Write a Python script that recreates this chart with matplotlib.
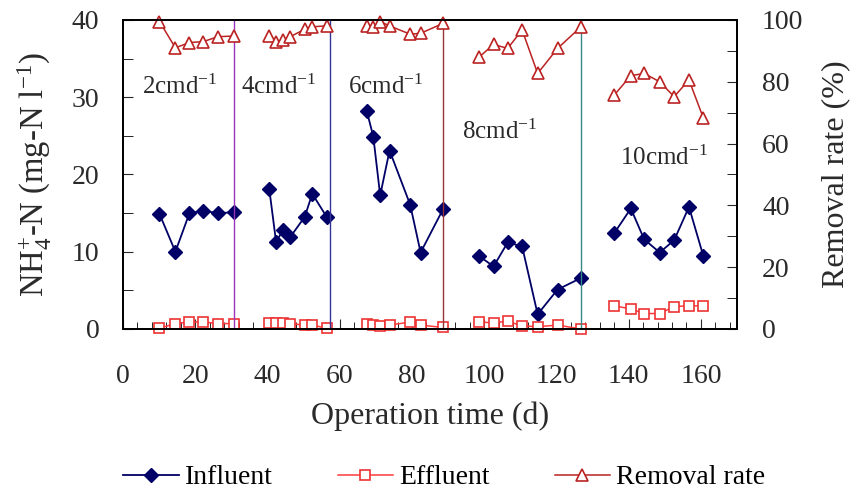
import numpy as np
import matplotlib
matplotlib.use('Agg')
import matplotlib.pyplot as plt
from matplotlib.ticker import MultipleLocator

plt.rcParams['font.family'] = ['Liberation Serif', 'DejaVu Serif']
plt.rcParams['mathtext.fontset'] = 'custom'
plt.rcParams['mathtext.rm'] = 'Liberation Serif'
plt.rcParams['mathtext.it'] = 'Liberation Serif:italic'

# operation days (one list per flow-rate phase)
days = [
    [10.1, 14.5, 18.4, 22.2, 26.3, 30.6],
    [40.5, 42.4, 44.2, 46.3, 50.3, 52.4, 56.4],
    [67.5, 69.3, 71.2, 73.8, 79.5, 82.4, 88.6],
    [98.7, 102.6, 106.5, 110.5, 114.8, 120.3, 126.8],
    [136.0, 140.6, 144.3, 148.6, 152.6, 156.7, 160.7],
]
influent = [
    [14.9, 10.0, 15.0, 15.3, 15.0, 15.1],
    [18.1, 11.2, 12.8, 11.9, 14.5, 17.5, 14.5],
    [28.2, 24.9, 17.3, 23.1, 16.1, 9.9, 15.5],
    [9.4, 8.1, 11.2, 10.7, 1.9, 5.1, 6.6],
    [12.4, 15.6, 11.6, 9.9, 11.5, 15.8, 9.4],
]
effluent = [
    [0.1, 0.7, 0.9, 0.9, 0.7, 0.7],
    [0.8, 0.8, 0.8, 0.7, 0.5, 0.5, 0.1],
    [0.7, 0.5, 0.4, 0.5, 0.9, 0.5, 0.2],
    [0.9, 0.8, 1.0, 0.4, 0.3, 0.5, 0.0],
    [3.0, 2.6, 2.0, 2.0, 2.9, 3.0, 3.0],
]
removal = [
    [99.5, 91.0, 92.7, 93.0, 94.6, 94.8],
    [94.8, 93.0, 93.5, 94.6, 97.0, 97.8, 98.1],
    [98.1, 97.8, 99.5, 98.1, 95.4, 95.7, 98.9],
    [88.1, 92.1, 90.8, 96.8, 82.7, 90.8, 97.8],
    [75.7, 82.0, 82.7, 80.0, 75.2, 80.6, 68.2],
]
phase_ends = [30.6, 57.3, 88.6, 126.8]
phase_colors = ['#9933bb', '#333399', '#993333', '#338888']
phase_labels = ['2cmd$^{\\mathregular{-1}}$', '4cmd$^{\\mathregular{-1}}$', '6cmd$^{\\mathregular{-1}}$',
                '8cmd$^{\\mathregular{-1}}$', '10cmd$^{\\mathregular{-1}}$']
label_pos = [(5.2, 30.4), (32.6, 30.4), (62.4, 30.4), (93.8, 24.6), (137.5, 21.2)]

fig = plt.figure(figsize=(8.59, 4.95), dpi=100)
ax = fig.add_axes([0.1432, 0.3354, 0.7148, 0.6242])
ax2 = ax.twinx()

for i in range(len(days)):
    ax.plot(days[i], influent[i], color='#000066', marker='D', ms=7, lw=1.3,
            mfc='#000066', mec='#000066', clip_on=False,
            label='Influent' if i == 0 else None)
    ax.plot(days[i], effluent[i], color='#ff3b3b', marker='s', ms=6.5, lw=1.1,
            mfc='white', mec='#ee3333', mew=1.2, clip_on=False,
            label='Effluent' if i == 0 else None)
    ax2.plot(days[i], removal[i], color='#bb2222', marker='^', ms=9, lw=1.1,
             mfc='white', mec='#bb2222', mew=1.2, clip_on=False,
             label='Removal rate' if i == 0 else None)

for xv, c in zip(phase_ends, phase_colors):
    ax.axvline(xv, color=c, lw=1.0)

for (x, y), t in zip(label_pos, phase_labels):
    ax.text(x, y, t, fontsize=18, color='#2a2a2a', va='baseline')

ax.set_xlim(0, 170)
ax.set_ylim(0, 40)
ax2.set_ylim(0, 100)
ax.xaxis.set_major_locator(MultipleLocator(20))
ax.xaxis.set_minor_locator(MultipleLocator(4))
ax.yaxis.set_major_locator(MultipleLocator(10))
ax.yaxis.set_minor_locator(MultipleLocator(5))
ax2.yaxis.set_major_locator(MultipleLocator(20))
ax2.yaxis.set_minor_locator(MultipleLocator(10))

ax.tick_params(axis='x', which='major', direction='in', length=7, labelsize=20,
               colors='#2a2a2a', pad=25)
ax.tick_params(axis='x', which='minor', direction='in', length=5)
ax.tick_params(axis='y', which='major', direction='in', length=7, labelsize=20,
               colors='#2a2a2a', pad=17, right=False)
ax.tick_params(axis='y', which='minor', direction='in', length=7, right=False)
ax2.tick_params(axis='y', which='major', direction='in', length=7, labelsize=20,
                colors='#2a2a2a', pad=18)
ax2.tick_params(axis='y', which='minor', direction='in', length=7)

for a in (ax, ax2):
    for s in a.spines.values():
        s.set_linewidth(1.3)

ax.set_xlabel('Operation time (d)', fontsize=23, color='#2a2a2a', labelpad=9)
ax.set_ylabel('NH$_{\\mathregular{4}}^{\\mathregular{+}}$-N (mg-N l$^{\\mathregular{-1}}$)',
              fontsize=23.5, color='#2a2a2a', labelpad=13)
ax2.set_ylabel('Removal rate (%)', fontsize=23, color='#2a2a2a', labelpad=13)

h1, l1 = ax.get_legend_handles_labels()
h2, l2 = ax2.get_legend_handles_labels()
fig.legend(h1 + h2, l1 + l2, loc='center', bbox_to_anchor=(0.517, 0.035), ncol=3,
           frameon=False, fontsize=20, handlelength=2.0, columnspacing=2.35,
           handletextpad=0.2)

plt.savefig('out.png', dpi=100)
plt.close()
